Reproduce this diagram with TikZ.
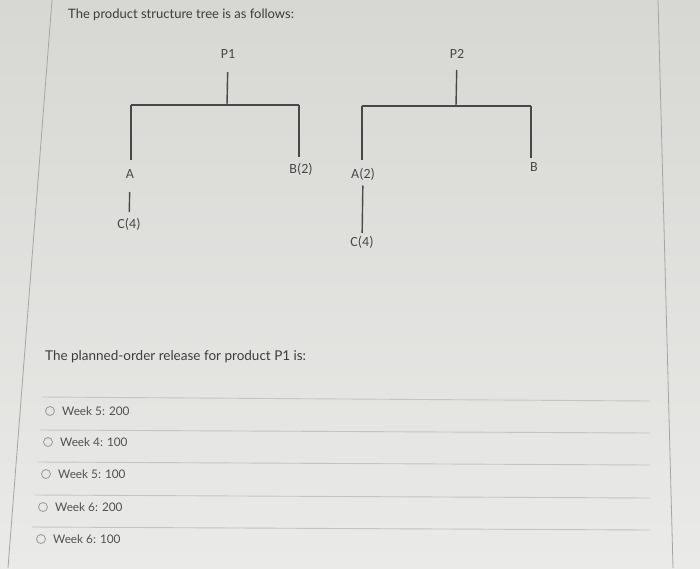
\documentclass[tikz,border=0pt]{standalone}
\usepackage{fontspec}
\setmainfont{Lato}
\newfontfamily\treefont{Carlito}
\definecolor{bgtop}{HTML}{D7D7D4}
\definecolor{bgbot}{HTML}{EAEAE8}
\definecolor{ink}{HTML}{3C3C3C}
\definecolor{treeink}{HTML}{484848}
\definecolor{rule}{HTML}{C4C4C2}
\definecolor{edge}{HTML}{A4A4A2}
\tikzset{
  lbl/.style={font=\treefont\fontsize{14}{16}\selectfont, text=treeink, inner sep=0pt, outer sep=0pt, text height=9pt, text depth=2pt},
  tree/.style={draw=treeink, line width=1.4pt},
  heading/.style={anchor=west, inner sep=0pt, text=ink},
  opttext/.style={anchor=west, inner sep=0pt, text=ink!90, font=\fontsize{11.8}{13}\selectfont},
  radio/.style={circle, draw=gray!80, line width=0.8pt, minimum size=9pt, inner sep=0pt},
  sep/.style={draw=rule, line width=0.9pt},
  border/.style={draw=edge, line width=0.8pt}
}
\begin{document}
\begin{tikzpicture}[x=1pt,y=-1pt]
\useasboundingbox (0,0) rectangle (700,568);
\shade[top color=bgtop, bottom color=bgbot] (0,0) rectangle (700,568);
% screen borders
\draw[border] (52,0) -- (8,568);
\draw[border] (658,0) -- (673,568);
% heading
\node[heading, font=\fontsize{13}{15}\selectfont] (t1) at (68,15) {The product structure tree is as follows:};
% tree P1
\node[lbl] (p1) at (228,55) {P1};
\coordinate (p1j) at (227,105);
\coordinate (p1l) at (131,105);
\coordinate (p1r) at (299,105);
\node[lbl] (a1) at (130,175) {A};
\node[lbl] (b1) at (301,170) {B(2)};
\node[lbl] (c1) at (129,225) {C(4)};
\draw[tree, shorten <=11.5pt] (p1) -- (p1j);
\draw[tree] (p1l) -- (p1r);
\draw[tree, shorten >=15pt] (p1l) -- (p1l |- a1);
\draw[tree, shorten >=13pt] (p1r) -- (p1r |- b1);
\draw[tree, shorten <=11.5pt, shorten >=7.5pt] (a1) -- (c1);
% tree P2
\node[lbl] (p2) at (457,55) {P2};
\coordinate (p2j) at (456,106);
\coordinate (p2l) at (362,106);
\coordinate (p2r) at (531,106);
\node[lbl] (a2) at (363,175) {A(2)};
\node[lbl] (b2) at (534,168) {B};
\node[lbl] (c2) at (362,243) {C(4)};
\draw[tree, shorten <=9.5pt] (p2) -- (p2j);
\draw[tree] (p2l) -- (p2r);
\draw[tree, shorten >=15pt] (p2l) -- (p2l |- a2);
\draw[tree, shorten >=10pt] (p2r) -- (p2r |- b2);
\draw[tree, shorten <=5pt, shorten >=4.5pt] (a2) -- (c2);
% question
\node[heading, font=\fontsize{13.5}{16}\selectfont] (t2) at (45,357) {The planned-order release for product P1 is:};
% separators
\draw[sep] (42,397) -- (650,401);
\draw[sep] (40,430) -- (650,433);
\draw[sep] (38,462) -- (650,465);
\draw[sep] (35,495) -- (650,498);
\draw[sep] (32,527) -- (650,530);
% options
\node[radio] (r1) at (50,411) {};
\node[opttext] (o1) at (62,411) {Week 5: 200};
\node[radio] (r2) at (48,442) {};
\node[opttext] (o2) at (60,442) {Week 4: 100};
\node[radio] (r3) at (46,474) {};
\node[opttext] (o3) at (58,474) {Week 5: 100};
\node[radio] (r4) at (43,507) {};
\node[opttext] (o4) at (55,507) {Week 6: 200};
\node[radio] (r5) at (41,539) {};
\node[opttext] (o5) at (53,539) {Week 6: 100};
\end{tikzpicture}
\end{document}
